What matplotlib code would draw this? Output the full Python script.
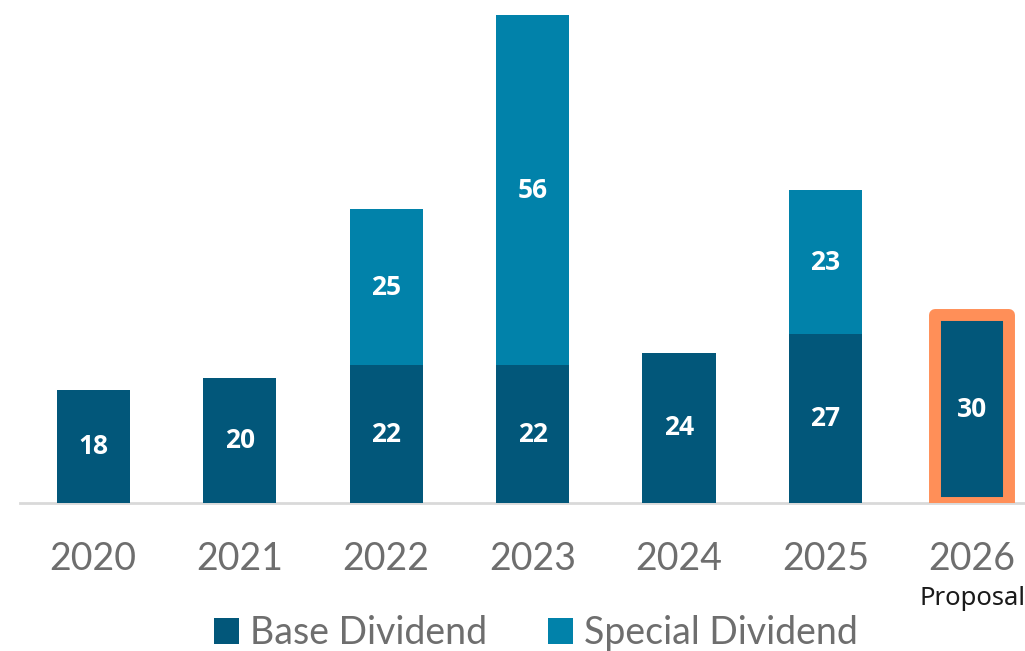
import matplotlib
matplotlib.use("Agg")
import matplotlib.pyplot as plt
import numpy as np

years = ["2020", "2021", "2022", "2023", "2024", "2025", "2026"]
base = [18, 20, 22, 22, 24, 27, 30]
special = [0, 0, 25, 56, 0, 23, 0]
highlight_index = 6
proposal_label = "Proposal"
legend_labels = ["Base Dividend", "Special Dividend"]

BASE_C = "#02577A"
SPEC_C = "#0182AA"
ORANGE = "#FF8F58"
GRAY = "#6E6E6E"

fig = plt.figure(figsize=(10.25, 6.51), dpi=100)
ax = fig.add_axes([20 / 1025, (651 - 503) / 651, 1 - 20 / 1025, (503 - 15) / 651])

x = np.arange(len(years))
w = 0.5
b1 = ax.bar(x, base, width=w, color=BASE_C, label=legend_labels[0], zorder=2)
sp_mask = [s > 0 for s in special]
b2 = ax.bar(x[sp_mask], np.array(special)[sp_mask], width=w,
            bottom=np.array(base)[sp_mask], color=SPEC_C,
            label=legend_labels[1], zorder=2)

# highlighted proposal bar border
hb = ax.bar(x[highlight_index], base[highlight_index], width=w, color="none",
            edgecolor=ORANGE, linewidth=8.6, joinstyle="round", zorder=3)

lbl_font = dict(color="white", fontsize=19, fontweight="bold", family="Open Sans",
                ha="center", va="center", zorder=4)
for i in range(len(years)):
    ax.text(x[i], base[i] / 2, str(base[i]), **lbl_font)
    if special[i] > 0:
        ax.text(x[i], base[i] + special[i] / 2, str(special[i]), **lbl_font)

ax.set_xlim(-0.5, (1025 - 93) / 146.5)
ax.set_ylim(0, 78)
ax.set_xticks(x)
ax.set_xticklabels(years, fontsize=27, color=GRAY, family="Lato")
ax.tick_params(axis="x", length=0, pad=27)
ax.set_yticks([])
for s in ["top", "right", "left"]:
    ax.spines[s].set_visible(False)
ax.spines["bottom"].set_color("#D9D9D9")
ax.spines["bottom"].set_linewidth(2)
ax.spines["bottom"].set_zorder(1)

ax.annotate(proposal_label, xy=(x[highlight_index], 0), xycoords="data",
            xytext=(0, -96 / 1.389), textcoords="offset points",
            ha="center", va="center", fontsize=18.5, family="Noto Sans",
            color="#1a1a1a", annotation_clip=False)

leg = fig.legend(handles=[b1, b2], labels=legend_labels, loc="center",
                 bbox_to_anchor=(536 / 1025, (651 - 633) / 651), ncol=2,
                 frameon=False, prop={"family": "Lato", "size": 27},
                 handlelength=0.68, handleheight=0.68, handletextpad=0.3,
                 columnspacing=1.6, labelcolor=GRAY)

fig.savefig("out.png", dpi=100)
